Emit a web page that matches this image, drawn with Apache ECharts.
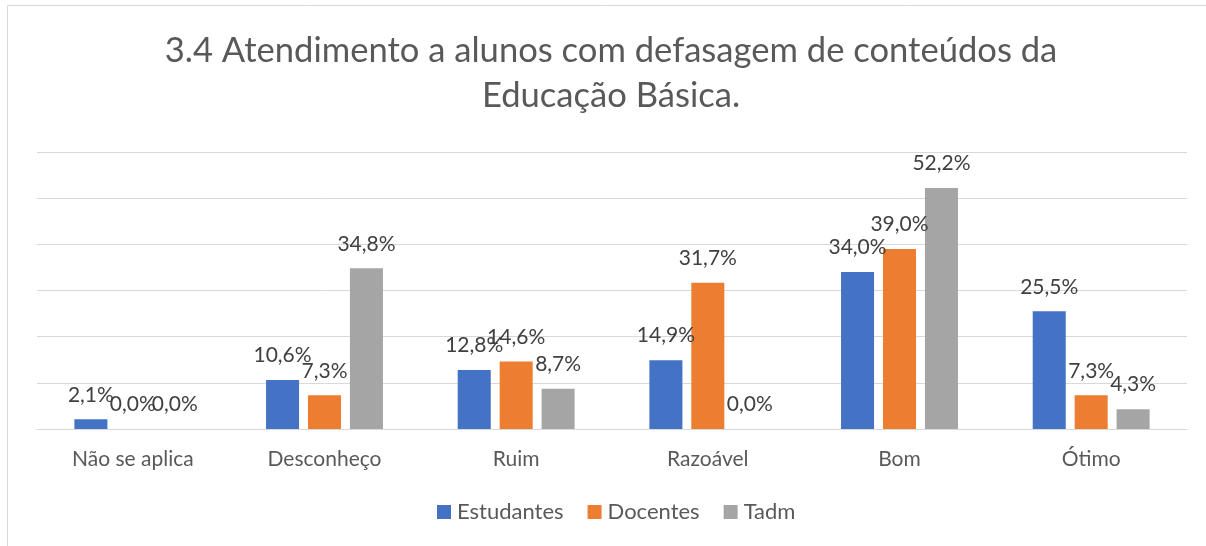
<!DOCTYPE html>
<html>
<head>
<meta charset="utf-8">
<script src="https://cdn.jsdelivr.net/npm/echarts@6/dist/echarts.min.js"></script>
<style>
  html, body { margin: 0; padding: 0; background: #fff; }
  #chart { width: 1206px; height: 546px; }
</style>
</head>
<body>
<div id="chart"></div>
<script>
// categorias e valores (%)
const categories = ['Não se aplica', 'Desconheço', 'Ruim', 'Razoável', 'Bom', 'Ótimo'];
const estudantes = [2.1, 10.6, 12.8, 14.9, 34.0, 25.5];
const docentes = [0.0, 7.3, 14.6, 31.7, 39.0, 7.3];
const tadm = [0.0, 34.8, 8.7, 0.0, 52.2, 4.3];

const font = 'Lato, "Open Sans", sans-serif';
const fmt = p => p.value.toFixed(1).replace('.', ',') + '%';

const chart = echarts.init(document.getElementById('chart'));

const makeSeries = (name, data, color) => ({
  name: name,
  type: 'bar',
  data: data,
  barGap: '27%',
  barCategoryGap: '39%',
  itemStyle: { color: color },
  label: {
    show: true,
    position: 'top',
    distance: 14,
    formatter: fmt,
    color: '#404040',
    fontSize: 21,
    fontFamily: font
  }
});

chart.setOption({
  animation: false,
  graphic: [{
    type: 'rect',
    shape: { x: 7.5, y: 5.5, width: 1220, height: 580 },
    style: { fill: 'none', stroke: '#d9d9d9', lineWidth: 1 }
  }],
  title: {
    text: '3.4 Atendimento a alunos com defasagem de conteúdos da\nEducação Básica.',
    left: 606,
    textAlign: 'center',
    top: 23,
    textStyle: {
      color: '#595959',
      fontSize: 34.6,
      fontWeight: 'normal',
      fontFamily: font,
      lineHeight: 45
    }
  },
  legend: {
    bottom: 18,
    left: 432,
    itemWidth: 14,
    itemHeight: 14,
    itemGap: 24,
    icon: 'rect',
    textStyle: { color: '#595959', fontSize: 22, fontFamily: font, padding: [0, 0, 0, 1] }
  },
  grid: { left: 37, right: 19, top: 152, bottom: 117 },
  xAxis: {
    type: 'category',
    data: categories,
    axisLine: { lineStyle: { color: '#d9d9d9', width: 1 } },
    axisTick: { show: false },
    axisLabel: { color: '#595959', fontSize: 21, fontFamily: font, margin: 20 }
  },
  yAxis: {
    type: 'value',
    min: 0,
    max: 60,
    interval: 10,
    axisLabel: { show: false },
    axisLine: { show: false },
    axisTick: { show: false },
    splitLine: { lineStyle: { color: '#d9d9d9', width: 1 } }
  },
  series: [
    makeSeries('Estudantes', estudantes, '#4472C4'),
    makeSeries('Docentes', docentes, '#ED7D31'),
    makeSeries('Tadm', tadm, '#A5A5A5')
  ]
});
</script>
</body>
</html>
